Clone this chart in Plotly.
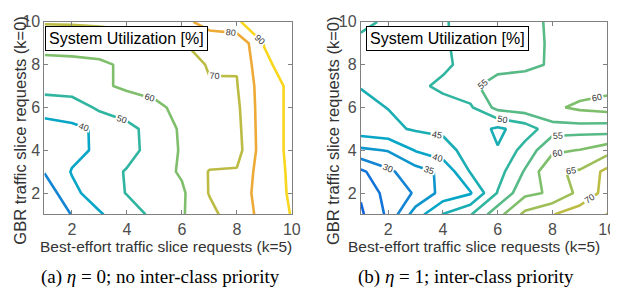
import plotly.graph_objects as go

# ---------------- data ----------------
be_requests = [1, 2, 3, 4, 5, 6, 7, 8, 9, 10]      # x: best-effort slice requests (k=5)
gbr_requests = [1, 2, 3, 4, 5, 6, 7, 8, 9, 10]     # y: GBR slice requests (k=0)

# System utilization [%], rows = GBR requests 1..10, cols = best-effort requests 1..10
util_no_priority = [
    [21.0, 30.4, 39.0, 45.6, 52.1, 59.1, 67.3, 75.2, 82.8, 90.5],
    [23.5, 37.6, 44.8, 50.4, 54.9, 58.4, 70.5, 76.3, 83.3, 91.6],
    [30.5, 40.6, 45.7, 50.7, 55.7, 61.2, 70.5, 70.9, 86.1, 91.2],
    [33.0, 37.2, 41.7, 46.9, 53.5, 61.0, 65.0, 66.0, 86.0, 91.7],
    [36.0, 38.5, 41.0, 47.1, 53.9, 61.4, 65.0, 67.0, 86.0, 91.7],
    [44.0, 44.0, 52.0, 55.1, 58.4, 62.0, 65.8, 68.0, 86.0, 91.7],
    [54.0, 56.0, 58.5, 61.5, 62.4, 65.0, 69.0, 69.5, 86.0, 91.7],
    [57.0, 57.5, 58.5, 61.5, 62.5, 64.0, 71.1, 70.6, 88.0, 94.7],
    [63.7, 64.0, 64.5, 65.5, 67.0, 69.8, 71.5, 72.0, 90.5, 93.0],
    [70.8, 71.0, 71.5, 72.5, 74.0, 75.9, 85.7, 89.0, 95.5, 97.0],
]
util_priority = [
    [19.2, 26.0, 37.6, 45.2, 49.6, 58.2, 66.3, 69.8, 72.6, 75.1],
    [20.6, 27.0, 30.5, 36.8, 39.5, 50.3, 58.8, 60.7, 66.4, 71.8],
    [24.0, 29.0, 33.0, 36.0, 45.3, 48.0, 55.5, 64.5, 65.5, 71.5],
    [34.0, 35.3, 40.3, 43.0, 47.0, 45.3, 52.0, 59.0, 60.2, 63.0],
    [43.0, 44.0, 45.5, 46.0, 48.0, 44.0, 47.3, 53.0, 53.0, 52.5],
    [44.0, 45.1, 46.5, 48.0, 49.3, 56.6, 57.8, 59.1, 61.0, 62.0],
    [45.15, 46.5, 48.8, 51.1, 53.2, 58.6, 57.5, 58.0, 57.7, 58.4],
    [47.0, 47.5, 48.0, 48.9, 51.9, 52.0, 53.9, 55.5, 57.0, 57.5],
    [48.5, 48.5, 49.0, 49.5, 51.5, 52.5, 54.5, 55.2, 57.0, 57.5],
    [51.5, 49.0, 49.2, 49.6, 51.5, 52.5, 54.0, 55.5, 57.0, 57.5],
]
levels_a = [30, 40, 50, 60, 70, 80, 90]
levels_b = [20, 25, 30, 35, 40, 45, 50, 55, 60, 65, 70, 75]
tick_vals = [2, 4, 6, 8, 10]
tick_text = ["2", "4", "6", "8", "10"]

# ---------------- style ----------------
stops = [(0.0, (53, 42, 135)), (0.12, (15, 94, 221)), (0.25, (20, 133, 212)),
         (0.37, (6, 166, 200)), (0.49, (45, 181, 162)), (0.61, (124, 191, 110)),
         (0.73, (185, 189, 69)), (0.86, (238, 170, 55)), (1.0, (249, 222, 26))]
CMIN, CMAX = 9.5, 91.5


def parula(v):
    t = max(0.0, min(1.0, (v - CMIN) / (CMAX - CMIN)))
    for (t0, c0), (t1, c1) in zip(stops[:-1], stops[1:]):
        if t <= t1:
            f = (t - t0) / (t1 - t0)
            c = [round(a + (b - a) * f) for a, b in zip(c0, c1)]
            return "rgb(%d,%d,%d)" % tuple(c)
    return "rgb(%d,%d,%d)" % stops[-1][1]


SANS = "Liberation Sans, Arial, sans-serif"
SERIF = "Liberation Serif, Times New Roman, serif"

fig = go.Figure()


def add_levels(z, levels, xa, ya):
    for L in levels:
        c = parula(L)
        fig.add_trace(go.Contour(
            x=be_requests, y=gbr_requests, z=z,
            autocontour=False,
            contours=dict(start=L, end=L + 0.1, size=10, coloring="lines",
                          showlabels=True, labelformat=".0f",
                          labelfont=dict(size=9, color="#333333", family=SANS)),
            line=dict(width=2.6, smoothing=0),
            colorscale=[[0, c], [1, c]], showscale=False,
            hoverinfo="skip", xaxis=xa, yaxis=ya))


add_levels(util_no_priority, levels_a, "x", "y")
add_levels(util_priority, levels_b, "x2", "y2")

W, H = 618, 295
ydom = [1 - 204 / H, 1 - 6 / H]
axis_common = dict(range=[1, 10], tickvals=tick_vals, ticktext=tick_text,
                   ticks="inside", ticklen=4, tickcolor="#808080", showline=True,
                   linecolor="#808080", linewidth=1, mirror="ticks",
                   showgrid=False, zeroline=False, ticklabeloverflow="allow",
                   tickfont=dict(size=16, color="#4d4d4d", family=SANS))

fig.update_layout(
    width=W, height=H, margin=dict(l=0, r=0, t=0, b=0),
    paper_bgcolor="white", plot_bgcolor="white", showlegend=False,
    xaxis=dict(domain=[37 / W, 288 / W], anchor="y", **axis_common),
    yaxis=dict(domain=ydom, anchor="x", **axis_common),
    xaxis2=dict(domain=[358 / W, 608 / W], anchor="y2", **axis_common),
    yaxis2=dict(domain=ydom, anchor="x2", **axis_common),
)

ann = []
for x0, xc, ytx in [(38, 160, 12), (363, 473, 330)]:
    ann.append(dict(text="System Utilization [%]", xref="paper", yref="paper",
                    x=x0 / W, y=1 - 10 / H, xanchor="left", yanchor="top",
                    showarrow=False, bgcolor="white", bordercolor="black",
                    borderwidth=1, borderpad=3,
                    font=dict(size=16, color="black", family=SANS)))
    ann.append(dict(text="Best-effort traffic slice requests (k=5)", xref="paper",
                    yref="paper", x=xc / W, y=1 - 237 / H, xanchor="center",
                    yanchor="middle", showarrow=False,
                    font=dict(size=15.5, color="#333333", family=SANS)))
    ann.append(dict(text="GBR traffic slice requests (k=0)", xref="paper",
                    yref="paper", x=ytx / W, y=1 - 118 / H, xanchor="center",
                    yanchor="middle", textangle=-90, showarrow=False,
                    font=dict(size=16.5, color="#333333", family=SANS)))

ann.append(dict(text="(a) <i>η</i> = 0; no inter-class priority", xref="paper",
                yref="paper", x=155 / W, y=1 - 268 / H, xanchor="center",
                yanchor="middle", showarrow=False,
                font=dict(size=19, color="black", family=SERIF)))
ann.append(dict(text="(b) <i>η</i> = 1; inter-class priority", xref="paper",
                yref="paper", x=465 / W, y=1 - 268 / H, xanchor="center",
                yanchor="middle", showarrow=False,
                font=dict(size=19, color="black", family=SERIF)))
fig.update_layout(annotations=ann)

fig.write_html("out.html")
